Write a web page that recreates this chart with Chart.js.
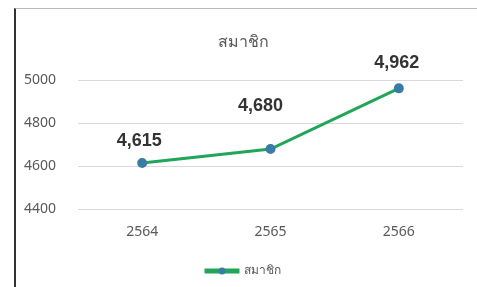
<!DOCTYPE html>
<html>
<head>
<meta charset="utf-8">
<script src="https://cdn.jsdelivr.net/npm/chart.js@4.4.0/dist/chart.umd.min.js"></script>
<style>
    html, body { margin: 0; padding: 0; background: #fff; }
    .frame {
        position: absolute; left: 14px; top: 8px; width: 463px; height: 279px;
        border-left: 2px solid #333; border-top: 1px solid #bbb;
        box-sizing: border-box;
    }
    .box { position: absolute; left: 16px; top: 9px; width: 456px; height: 278px; }
</style>
</head>
<body>
<div class="frame"></div>
<div class="box"><canvas id="chart"></canvas></div>
<script>
const years = ['2564', '2565', '2566'];
const members = [4615, 4680, 4962];
const yTicks = [4400, 4600, 4800, 5000];
const seriesName = 'สมาชิก';

const lineColor = '#21a558';
const dotColor = '#3a7ca5';

// value labels over each point (label offsets in px)
const labelOffsets = [[-3, -22], [-10, -43], [-2, -25]];
const valueLabels = {
    id: 'valueLabels',
    afterDatasetsDraw(chart) {
        const ctx = chart.ctx;
        const meta = chart.getDatasetMeta(0);
        ctx.save();
        ctx.font = 'bold 18px "Liberation Sans", Arial, sans-serif';
        ctx.fillStyle = '#333';
        ctx.textAlign = 'center';
        ctx.textBaseline = 'middle';
        meta.data.forEach(function(pt, i) {
            const v = chart.data.datasets[0].data[i];
            const off = labelOffsets[i];
            ctx.fillText(v.toLocaleString('en-US'), pt.x + off[0], pt.y + off[1]);
        });
        ctx.restore();
    }
};

// draw a dot in the middle of the legend line
const legendDot = {
    id: 'legendDot',
    afterDraw(chart) {
        const lg = chart.legend;
        if (!lg || !lg.legendHitBoxes.length) return;
        const b = lg.legendHitBoxes[0];
        const ctx = chart.ctx;
        ctx.save();
        ctx.fillStyle = dotColor;
        ctx.beginPath();
        ctx.arc(b.left + 16, b.top + b.height / 2, 3.5, 0, Math.PI * 2);
        ctx.fill();
        ctx.restore();
    }
};

const ctx = document.getElementById('chart').getContext('2d');
new Chart(ctx, {
    type: 'line',
    data: {
        labels: years,
        datasets: [{
            label: seriesName,
            data: members,
            borderColor: lineColor,
            backgroundColor: lineColor,
            borderWidth: 3,
            pointRadius: 3.5,
            pointBackgroundColor: dotColor,
            pointBorderColor: dotColor,
            tension: 0
        }]
    },
    options: {
        responsive: true,
        maintainAspectRatio: false,
        animation: false,
        layout: { padding: { left: 8, right: 9, top: 10, bottom: 0 } },
        plugins: {
            title: {
                display: true,
                text: seriesName,
                color: '#595959',
                font: { family: '"Noto Sans", sans-serif', size: 16, weight: 'normal' },
                padding: { top: 14, bottom: 28 }
            },
            legend: {
                position: 'bottom',
                labels: {
                    color: '#595959',
                    boxWidth: 32,
                    boxHeight: 2,
                    padding: 19,
                    font: { family: '"Noto Sans", sans-serif', size: 12 }
                }
            },
            tooltip: { enabled: false }
        },
        scales: {
            x: {
                offset: true,
                grid: { display: false },
                border: { display: false },
                ticks: { color: '#595959', font: { family: '"Noto Sans", sans-serif', size: 14 }, padding: 6 }
            },
            y: {
                min: yTicks[0],
                max: yTicks[yTicks.length - 1],
                border: { display: false },
                grid: { color: '#d9d9d9', drawTicks: false },
                afterBuildTicks(axis) { axis.ticks = yTicks.map(function(v) { return { value: v }; }); },
                afterFit(axis) { axis.width = 54; },
                ticks: {
                    color: '#595959',
                    crossAlign: 'far',
                    padding: 10,
                    callback: function(v) { return String(v); },
                    font: { family: '"Noto Sans", sans-serif', size: 14 }
                }
            }
        }
    },
    plugins: [valueLabels, legendDot]
});
</script>
</body>
</html>
